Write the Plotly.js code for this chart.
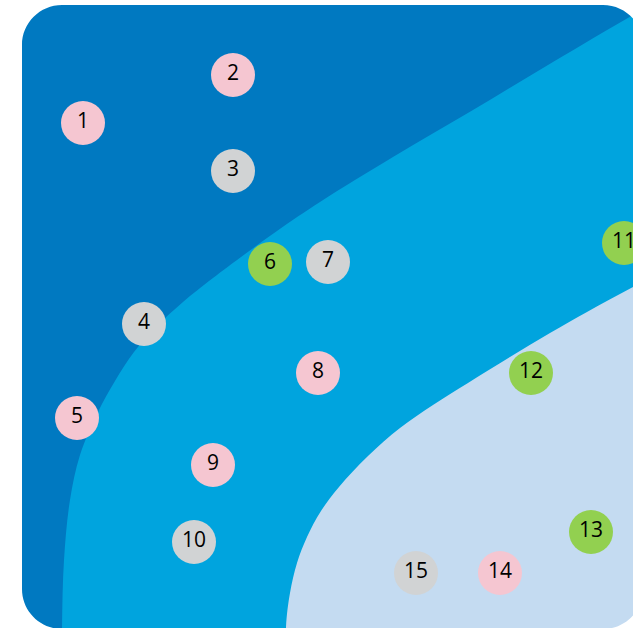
<!DOCTYPE html>
<html>
<head>
<meta charset="utf-8">
<script src="https://cdn.plot.ly/plotly-3.0.1.min.js"></script>
<style>html,body{margin:0;padding:0;background:#fff;}#chart{width:633px;height:628px;}</style>
</head>
<body>
<div id="chart"></div>
<script>
// Zone boundary between dark and medium blue (x, y in picture units, y downwards)
const boundaryOuterX = [62, 62, 62, 64, 70, 80, 98, 115, 134, 157, 183, 213, 277, 320, 393, 473, 553, 633, 680, 760];
const boundaryOuterY = [760, 700, 629, 560, 500, 455, 412, 381, 352, 326, 302, 278, 231, 202, 157, 110, 62, 15, -12, -58];
// Zone boundary between medium and light blue
const boundaryInnerX = [286, 286, 286, 290, 297, 307, 321, 339, 368, 400, 433, 468, 510, 550, 587, 633, 680, 720, 780, 800];
const boundaryInnerY = [760, 700, 627, 593, 563, 537, 511, 487, 456, 428, 405, 383, 357, 333, 312, 287, 262, 240, 207, -60];

// Numbered points
const labels = ["1","2","3","4","5","6","7","8","9","10","11","12","13","14","15"];
const pointX = [83, 233, 233, 144, 77, 270, 328, 318, 213, 194, 624, 531, 591, 500, 416];
const pointY = [123, 75, 171, 324, 418, 264, 262, 373, 465, 542, 243, 373, 532, 573, 573];
const groups = ["pink","pink","gray","gray","pink","green","gray","pink","pink","gray","green","green","green","pink","gray"];

const groupColors = {pink: "#F5C6D1", gray: "#D1D3D4", green: "#92D050"};
const zoneColors = {dark: "#0079C1", medium: "#00A4DE", light: "#C4DBF1"};

const W = 633, H = 628;
const frame = {x0: 22, y0: 5, x1: 643, y1: 629, r: 40};

function maskPath(f) {
  const k = f.r * 0.5523;
  const outer = `M -50,-50 L ${W + 60},-50 L ${W + 60},${H + 60} L -50,${H + 60} Z`;
  const inner = `M ${f.x0 + f.r},${f.y0} ` +
    `C ${f.x0 + f.r - k},${f.y0} ${f.x0},${f.y0 + f.r - k} ${f.x0},${f.y0 + f.r} ` +
    `L ${f.x0},${f.y1 - f.r} ` +
    `C ${f.x0},${f.y1 - f.r + k} ${f.x0 + f.r - k},${f.y1} ${f.x0 + f.r},${f.y1} ` +
    `L ${f.x1 - f.r},${f.y1} ` +
    `C ${f.x1 - f.r + k},${f.y1} ${f.x1},${f.y1 - f.r + k} ${f.x1},${f.y1 - f.r} ` +
    `L ${f.x1},${f.y0 + f.r} ` +
    `C ${f.x1},${f.y0 + f.r - k} ${f.x1 - f.r + k},${f.y0} ${f.x1 - f.r},${f.y0} Z`;
  return outer + " " + inner;
}

const traces = [
  {
    type: "scatter", mode: "lines",
    x: boundaryInnerX, y: boundaryInnerY,
    line: {shape: "spline", smoothing: 1, width: 0, color: zoneColors.medium},
    fill: "tozerox", fillcolor: zoneColors.medium,
    hoverinfo: "skip", showlegend: false
  },
  {
    type: "scatter", mode: "lines",
    x: boundaryOuterX, y: boundaryOuterY,
    line: {shape: "spline", smoothing: 1, width: 0, color: zoneColors.dark},
    fill: "tozerox", fillcolor: zoneColors.dark,
    hoverinfo: "skip", showlegend: false
  },
  {
    type: "scatter", mode: "markers+text",
    x: pointX, y: pointY, text: labels,
    textposition: "middle center",
    textfont: {family: "Open Sans, sans-serif", size: 21, color: "#000000"},
    marker: {size: 44, color: groups.map(g => groupColors[g]), line: {width: 0}},
    hoverinfo: "skip", showlegend: false
  }
];

const layout = {
  width: W, height: H,
  margin: {l: 0, r: 0, t: 0, b: 0, pad: 0},
  paper_bgcolor: "#ffffff",
  plot_bgcolor: zoneColors.light,
  showlegend: false,
  xaxis: {range: [0, W], visible: false, fixedrange: true, showgrid: false, zeroline: false},
  yaxis: {range: [H, 0], visible: false, fixedrange: true, showgrid: false, zeroline: false},
  shapes: [
    {type: "path", xref: "x", yref: "y", path: maskPath(frame),
     fillcolor: "#ffffff", line: {width: 0}, layer: "above"}
  ]
};

Plotly.newPlot("chart", traces, layout, {staticPlot: true, displayModeBar: false});
</script>
</body>
</html>
